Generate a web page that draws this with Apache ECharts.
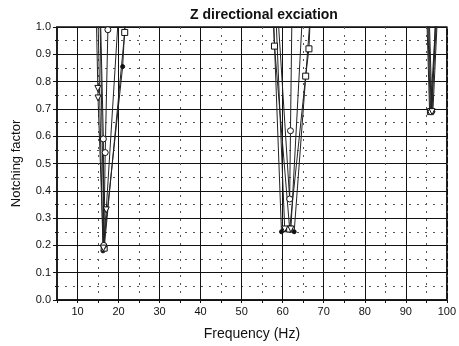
<!DOCTYPE html>
<html>
<head>
<meta charset="utf-8">
<script src="https://cdn.jsdelivr.net/npm/echarts@6/dist/echarts.min.js"></script>
<style>
  html, body { margin: 0; padding: 0; background: #fff; }
  #chart { width: 459px; height: 346px; }
</style>
</head>
<body>
<div id="chart"></div>
<script>
// frequency (Hz) / notching factor pairs; null splits the three notches
const filledCircle = [
  [14.9, 1.1], [16.2, 0.18], [21.0, 0.855], [21.9, 1.1], null,
  [57.6, 1.1], [59.7, 0.25], [62.8, 0.25], [67.0, 1.1], null,
  [95.0, 1.1], [95.8, 0.69], [96.6, 0.69], [97.9, 1.1]
];
const openSquare = [
  [15.4, 1.1], [16.5, 0.19], [21.5, 0.98], [21.7, 1.1], null,
  [57.5, 1.1], [58.0, 0.93], [61.7, 0.26], [65.6, 0.82], [66.4, 0.92], [66.9, 1.1], null,
  [95.2, 1.1], [96.0, 0.69], [97.6, 1.1]
];
const openCircle = [
  [15.5, 1.1], [16.3, 0.59], [16.4, 0.2], [16.75, 0.54], [17.4, 0.99], [17.5, 1.1], null,
  [58.6, 1.1], [61.7, 0.37], [61.9, 0.62], [62.3, 1.1], null,
  [95.4, 1.1], [96.2, 0.69], [97.8, 1.1]
];
const openTriangle = [
  [14.5, 1.1], [14.95, 0.775], [15.0, 0.74], [16.3, 0.19], [17.0, 0.33], [20.2, 1.1], null,
  [58.2, 1.1], [60.5, 0.26], [62.0, 0.26], [65.0, 1.1], null,
  [95.6, 1.1], [96.4, 0.69], [97.4, 1.1]
];

const chart = echarts.init(document.getElementById("chart"));

function line(data, symbol, filled, size) {
  return {
    type: "line",
    xAxisIndex: 0,
    data: data,
    symbol: symbol,
    symbolSize: size,
    symbolRotate: symbol === "triangle" ? 180 : 0,
    connectNulls: false,
    clip: true,
    lineStyle: { color: "#222", width: 1 },
    itemStyle: { color: filled ? "#111" : "#fff", borderColor: "#111", borderWidth: 1 },
    emphasis: { disabled: true },
  };
}

const axisFont = "Liberation Sans, Arial, sans-serif";

chart.setOption({
  backgroundColor: "#fff",
  animation: false,
  textStyle: { fontFamily: axisFont },
  title: {
    text: "Z directional exciation",
    left: 259,
    top: 3,
    textAlign: "center",
    textStyle: { fontSize: 14, fontWeight: "bold", color: "#111" },
  },
  grid: {
    left: 57, right: 12, top: 27, bottom: 44,
    show: true, borderColor: "#111", borderWidth: 1.5,
  },
  xAxis: [
    {
      // main axis: solid lines every 10 Hz (every other line of a 5 Hz step)
      type: "value",
      min: 5, max: 100, interval: 5,
      name: "Frequency (Hz)",
      nameLocation: "middle",
      nameGap: 27,
      nameTextStyle: { fontSize: 14, color: "#111" },
      axisLine: { lineStyle: { color: "#111", width: 1.5 } },
      axisTick: { length: 3, lineStyle: { color: "#111" } },
      axisLabel: {
        fontSize: 11, color: "#111", margin: 6,
        formatter: (v) => (v % 10 === 0 ? String(v) : ""),
      },
      splitLine: { show: true, lineStyle: { color: ["rgba(0,0,0,0)", "#111"], width: 1 } },
    },
    {
      // helper axis: dotted lines at 15, 25, ... 95 Hz
      type: "value",
      min: 5, max: 100, interval: 10,
      position: "bottom",
      axisLine: { show: false },
      axisTick: { show: false },
      axisLabel: { show: false },
      splitLine: { show: true, lineStyle: { color: "#555", type: [2, 6], width: 1 } },
    },
  ],
  yAxis: {
    type: "value",
    min: 0, max: 1, interval: 0.1,
    name: "Notching factor",
    nameLocation: "middle",
    nameGap: 34,
    nameTextStyle: { fontSize: 13, color: "#111" },
    axisLine: { lineStyle: { color: "#111", width: 1.5 } },
    axisTick: { length: 4, lineStyle: { color: "#111" } },
    minorTick: { show: true, splitNumber: 2, length: 2, lineStyle: { color: "#111" } },
    axisLabel: { fontSize: 11, color: "#111", margin: 6, formatter: (v) => v.toFixed(1) },
    splitLine: { show: true, lineStyle: { color: "#111", width: 1 } },
    minorSplitLine: { show: true, lineStyle: { color: "#555", type: [2, 6], width: 1 } },
  },
  series: [
    line(filledCircle, "circle", true, 4),
    line(openSquare, "rect", false, 6),
    line(openCircle, "circle", false, 6),
    line(openTriangle, "triangle", false, 6),
  ],
});
</script>
</body>
</html>
